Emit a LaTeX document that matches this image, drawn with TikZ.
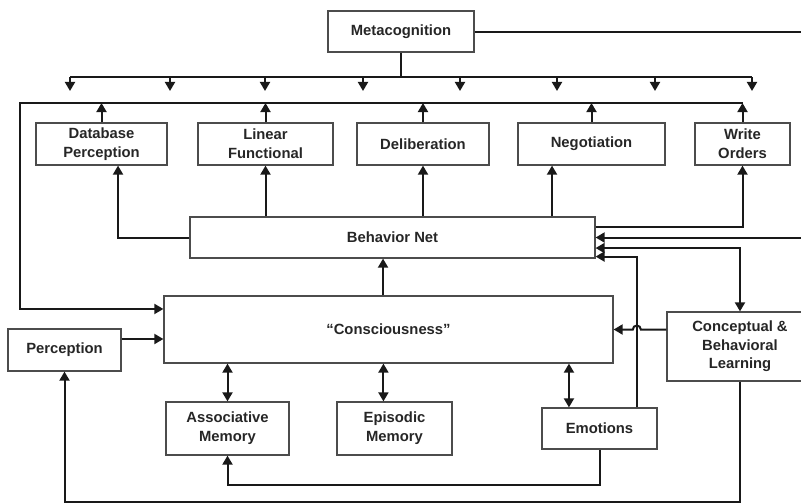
\documentclass[tikz,border=0pt]{standalone}
\usepackage{fontspec}
\setmainfont{Liberation Sans}
\usetikzlibrary{arrows.meta}
\begin{document}
\begin{tikzpicture}[x=0.75pt,y=-0.75pt,
  box/.style={draw=black!70,line width=0.9pt,inner sep=0pt,align=center,
    font=\bfseries\fontsize{11.1}{14}\selectfont,text=black!85},
  conn/.style={line width=1.5pt,draw=black!90},
  arr/.style={conn,-{Triangle[length=6.8pt,width=7.5pt]}},
  darr/.style={conn,{Triangle[length=6.8pt,width=7.5pt]}-{Triangle[length=6.8pt,width=7.5pt]}}]
\useasboundingbox (0,0) rectangle (801,504);

% boxes
\node[box,minimum width=109.5pt,minimum height=30.75pt] (meta) at (401,31.5) {Metacognition};
\node[box,minimum width=98.25pt,minimum height=31.5pt] (db) at (101.5,144) {Database\\Perception};
\node[box,minimum width=101.25pt,minimum height=31.5pt] (lf) at (265.5,144) {Linear\\Functional};
\node[box,minimum width=99pt,minimum height=31.5pt] (del) at (423,144) {Deliberation};
\node[box,minimum width=110.25pt,minimum height=31.5pt] (neg) at (591.5,144) {Negotiation};
\node[box,minimum width=71.25pt,minimum height=31.5pt] (wo) at (742.5,144) {Write\\Orders};
\node[box,minimum width=303.75pt,minimum height=30.75pt] (bn) at (392.5,237.5) {Behavior Net};
\node[box,minimum width=336.75pt,minimum height=50.25pt] (con) at (388.5,329.5) {“Consciousness”};
\node[box,minimum width=84.75pt,minimum height=31.5pt] (per) at (64.5,350) {Perception};
\node[box,minimum width=92.25pt,minimum height=39.75pt] (am) at (227.5,428.5) {Associative\\Memory};
\node[box,minimum width=86.25pt,minimum height=39.75pt] (ep) at (394.5,428.5) {Episodic\\Memory};
\node[box,minimum width=86.25pt,minimum height=30.75pt] (emo) at (599.5,428.5) {Emotions};
\node[box,minimum width=109.5pt,minimum height=51.75pt] (cbl) at (740,346.5) {Conceptual \&\\Behavioral\\Learning};

% metacognition outputs
\coordinate (metaout) at (801,31.5);
\draw[conn] (meta.east) -- (metaout);
\coordinate (busL) at (70,77);
\coordinate (busR) at (752,77);
\draw[conn] (meta.south) -- (meta.south |- busL);
\draw[conn] (busL) -- (busR);
\foreach \i/\x in {1/70,2/170,3/265,4/363,5/460,6/557,7/655,8/752}{
  \coordinate (bt\i) at (\x,91);
  \draw[arr] (bt\i |- busL) -- (bt\i);
}

% second bus
\coordinate (bus2L) at (20,103);
\coordinate (bus2R) at (742.5,103);
\draw[arr] (bus2R) -- (bus2L) |- ([yshift=15.4pt]con.west);
\foreach \n in {db,lf,del,neg,wo}{
  \draw[arr] (\n.north) -- (\n.north |- bus2L);
}

% behavior net outputs
\draw[arr] (bn.west) -| ([xshift=12.4pt]db.south);
\draw[arr] (lf.south |- bn.north) -- (lf.south);
\draw[arr] (del.south |- bn.north) -- (del.south);
\draw[arr] ([xshift=-29.6pt]neg.south |- bn.north) -- ([xshift=-29.6pt]neg.south);
\draw[arr] ([yshift=7.9pt]bn.east) -| (wo.south);

% behavior net inputs
\coordinate (rin) at (801,237.5);
\draw[arr] (rin) -- (bn.east);
\draw[darr] ([yshift=-7.9pt]bn.east) -| (cbl.north);
\draw[arr] ([xshift=28pt]emo.north) |- ([yshift=-14.3pt]bn.east);
\draw[arr] ([xshift=-4.1pt]con.north) -- ([xshift=-4.1pt]con.north |- bn.south);

% consciousness inputs
\draw[arr] ([yshift=8.25pt]per.east) -- ([yshift=8.25pt]per.east -| con.west);
\draw[arr] (cbl.west |- con.east) -- ([xshift=31pt]emo.north |- con.east)
  arc[start angle=0,end angle=-180,radius=4]
  -- (con.east);

% memories
\draw[darr] (con.south -| am.north) -- (am.north);
\draw[darr] ([xshift=-8.3pt]ep.north |- con.south) -- ([xshift=-8.3pt]ep.north);
\draw[darr] ([xshift=-22.9pt]emo.north |- con.south) -- ([xshift=-22.9pt]emo.north);

% bottom loops
\draw[arr] (emo.south) -- ++(0,35) -| (am.south);
\draw[arr] (cbl.south) -- ++(0,120) -| (per.south);
\end{tikzpicture}
\end{document}
